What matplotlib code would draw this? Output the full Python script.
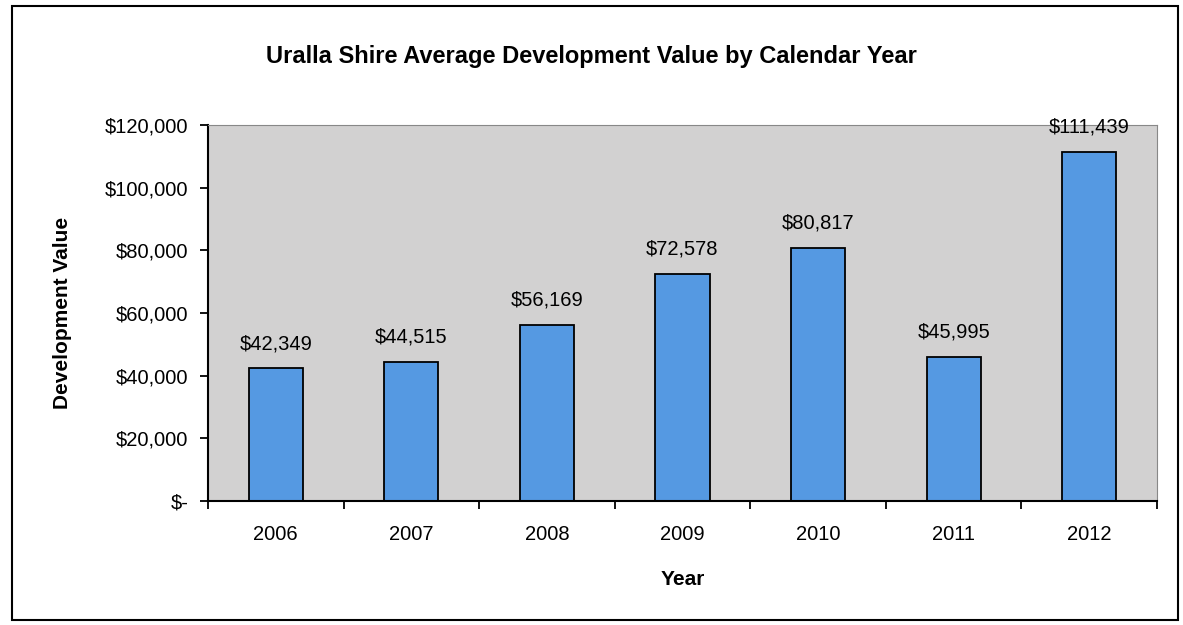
import matplotlib
matplotlib.use("Agg")
import matplotlib.pyplot as plt
from matplotlib.patches import Rectangle

years = ["2006", "2007", "2008", "2009", "2010", "2011", "2012"]
values = [42349, 44515, 56169, 72578, 80817, 45995, 111439]
yticks = [0, 20000, 40000, 60000, 80000, 100000, 120000]
ytick_labels = ["$-", "$20,000", "$40,000", "$60,000", "$80,000", "$100,000", "$120,000"]

plt.rcParams["font.family"] = ["Liberation Sans", "DejaVu Sans"]

fig = plt.figure(figsize=(11.83, 6.25), dpi=100)
fig.patches.append(Rectangle((12/1183, 1 - 620/625), 1166/1183, 614/625,
                             transform=fig.transFigure, fill=False, ec="black", lw=1.5))

ax = fig.add_axes([208/1183, 1 - 501/625, 949/1183, 376/625])
ax.set_facecolor("#d2d1d1")
x = range(len(years))
ax.bar(x, values, width=0.4, color="#5599e2", edgecolor="black", lw=1.3, zorder=2)
for xi, v in zip(x, values):
    ax.text(xi, v + 4800, f"${v:,}", ha="center", va="bottom", fontsize=14.5)

ax.set_xlim(-0.5, len(years) - 0.5)
ax.set_ylim(0, 120000)
ax.set_yticks(yticks)
ax.set_yticklabels(ytick_labels, fontsize=14.5)
ax.set_xticks(x)
ax.set_xticklabels(years, fontsize=14.5)
ax.set_xticks([i + 0.5 for i in range(-1, len(years))], minor=True)
ax.tick_params(axis="x", which="major", length=0, pad=17)
ax.tick_params(axis="x", which="minor", length=6, width=1.3, direction="out")
ax.tick_params(axis="y", length=6, width=1.3, pad=8)
for s in ["top", "right"]:
    ax.spines[s].set_color("#888888")
    ax.spines[s].set_linewidth(0.8)
for s in ["left", "bottom"]:
    ax.spines[s].set_linewidth(1.5)

ax.set_xlabel("Year", fontsize=15, fontweight="bold", labelpad=19)
ax.set_ylabel("Development Value", fontsize=15, fontweight="bold", labelpad=24)
fig.text(0.5, 1 - 57/625, "Uralla Shire Average Development Value by Calendar Year",
         ha="center", va="center", fontsize=17, fontweight="bold")

fig.savefig("out.png", dpi=100)
